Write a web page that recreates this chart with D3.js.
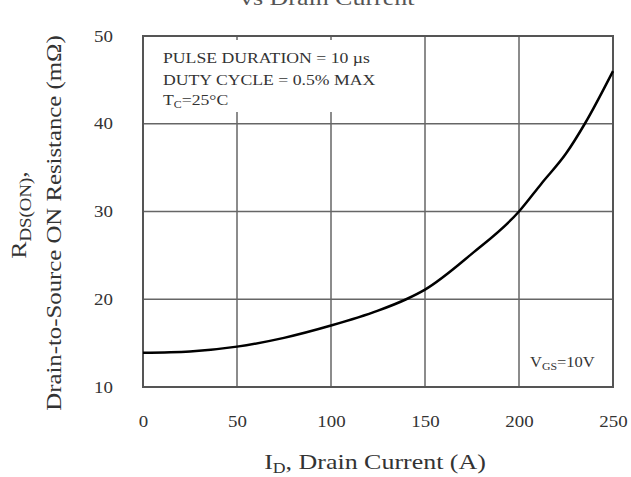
<!DOCTYPE html>
<html>
<head>
  <meta charset="utf-8">
  <style type="text/css">
  body {
    margin: 0;
    background: #fff;
    font-family: "Liberation Serif", "DejaVu Serif", serif;
  }
  svg text {
    fill: #333;
  }
  .grid line {
    stroke: #666;
    stroke-width: 1.5px;
  }
  </style>
</head>
<body>
  <script src="https://d3js.org/d3.v7.min.js"></script>
  <script>
    // RDS(on) curve
    var currentA   = [0, 25, 50, 75, 100, 125, 140, 150, 175, 200, 212, 225, 235, 250];
    var resistance = [13.9, 14.05, 14.6, 15.6, 17.0, 18.7, 20.0, 21.1, 25.2, 30.0, 33.2, 36.6, 40.0, 46.0];

    var xTicks = [0, 50, 100, 150, 200, 250];
    var yTicks = [10, 20, 30, 40, 50];

    var width = 631, height = 477;
    var plot = {left: 143, right: 613, top: 36, bottom: 387};
    var sx = 1.18; // the scan is stretched a bit sideways

    var x = d3.scaleLinear().domain([0, 250]).range([plot.left, plot.right]);
    var y = d3.scaleLinear().domain([10, 50]).range([plot.bottom, plot.top]);

    var svg = d3.select("body").append("svg")
        .attr("width", width)
        .attr("height", height);

    // text placed at (px,py), stretched along its run
    function label(parent, px, py, size, anchor, rot) {
      var g = parent.append("g")
          .attr("transform", "translate(" + px + "," + py + ")" + (rot ? " rotate(" + rot + ")" : "") + " scale(" + sx + ",1)");
      return g.append("text")
          .attr("text-anchor", anchor || "start")
          .style("font-size", size + "px");
    }

    // title, mostly cut off by the top edge as in the scan
    label(svg, 240, 5, 22, "start")
        .style("fill", "#555")
        .text("vs Drain Current");

    // grid
    var grid = svg.append("g").attr("class", "grid");
    grid.selectAll(".vx")
        .data(xTicks.slice(1, -1))
      .enter().append("line")
        .attr("x1", function(d) { return x(d); })
        .attr("x2", function(d) { return x(d); })
        .attr("y1", plot.top)
        .attr("y2", plot.bottom);
    grid.selectAll(".hy")
        .data(yTicks.slice(1, -1))
      .enter().append("line")
        .attr("x1", plot.left)
        .attr("x2", plot.right)
        .attr("y1", function(d) { return y(d); })
        .attr("y2", function(d) { return y(d); });

    // legend box blanking the grid
    svg.append("rect")
        .attr("x", plot.left)
        .attr("y", plot.top)
        .attr("width", 252)
        .attr("height", 76)
        .attr("fill", "#fff");
    svg.selectAll(".stub")
        .data([50, 100])
      .enter().append("line")
        .attr("x1", function(d) { return x(d); })
        .attr("x2", function(d) { return x(d); })
        .attr("y1", plot.top)
        .attr("y2", plot.top + 4)
        .attr("stroke", "#666")
        .attr("stroke-width", 1.5);

    label(svg, 163, 63, 15).text("PULSE DURATION = 10 \u00b5s");
    label(svg, 163, 85, 15).text("DUTY CYCLE = 0.5% MAX");
    var tc = label(svg, 163, 105, 15);
    tc.append("tspan").text("T");
    tc.append("tspan").attr("dy", 3).style("font-size", "10px").text("C");
    tc.append("tspan").attr("dy", -3).text("=25\u00b0C");

    // frame
    svg.append("rect")
        .attr("x", plot.left)
        .attr("y", plot.top)
        .attr("width", plot.right - plot.left)
        .attr("height", plot.bottom - plot.top)
        .attr("fill", "none")
        .attr("stroke", "#555")
        .attr("stroke-width", 2);

    // curve
    var line = d3.line()
        .x(function(d, i) { return x(currentA[i]); })
        .y(function(d) { return y(d); })
        .curve(d3.curveMonotoneX);
    svg.append("path")
        .datum(resistance)
        .attr("d", line)
        .attr("fill", "none")
        .attr("stroke", "#000")
        .attr("stroke-width", 2.5);

    // VGS label
    var vgs = label(svg, 530, 367, 14);
    vgs.append("tspan").text("V");
    vgs.append("tspan").attr("dy", 3).style("font-size", "10px").text("GS");
    vgs.append("tspan").attr("dy", -3).text("=10V");

    // axes (labels only)
    var xAxis = d3.axisBottom(x).tickValues(xTicks).tickSize(0).tickPadding(29);
    var yAxis = d3.axisLeft(y).tickValues(yTicks).tickSize(0).tickPadding(25.5);
    var gx = svg.append("g")
        .attr("transform", "translate(0," + plot.bottom + ")")
        .call(xAxis);
    var gy = svg.append("g")
        .attr("transform", "translate(" + plot.left + ",0)")
        .call(yAxis);
    [gx, gy].forEach(function(g) {
      g.select(".domain").remove();
      g.selectAll("text")
          .attr("transform", "scale(" + sx + ",1)")
          .style("font-family", "Liberation Serif, serif")
          .style("font-size", "16px")
          .style("fill", "#333");
    });

    // axis titles
    var xt = label(svg, 375, 469, 22, "middle");
    xt.append("tspan").text("I");
    xt.append("tspan").attr("dy", 4).style("font-size", "15px").text("D");
    xt.append("tspan").attr("dy", -4).text(", Drain Current (A)");

    var y1 = label(svg, 26, 215, 22, "middle", -90);
    y1.append("tspan").text("R");
    y1.append("tspan").attr("dy", 5).style("font-size", "16px").text("DS(ON)");
    y1.append("tspan").attr("dy", -5).text(",");
    label(svg, 61, 223, 21, "middle", -90)
        .text("Drain-to-Source ON Resistance (m\u03a9)");
  </script>
</body>
</html>
